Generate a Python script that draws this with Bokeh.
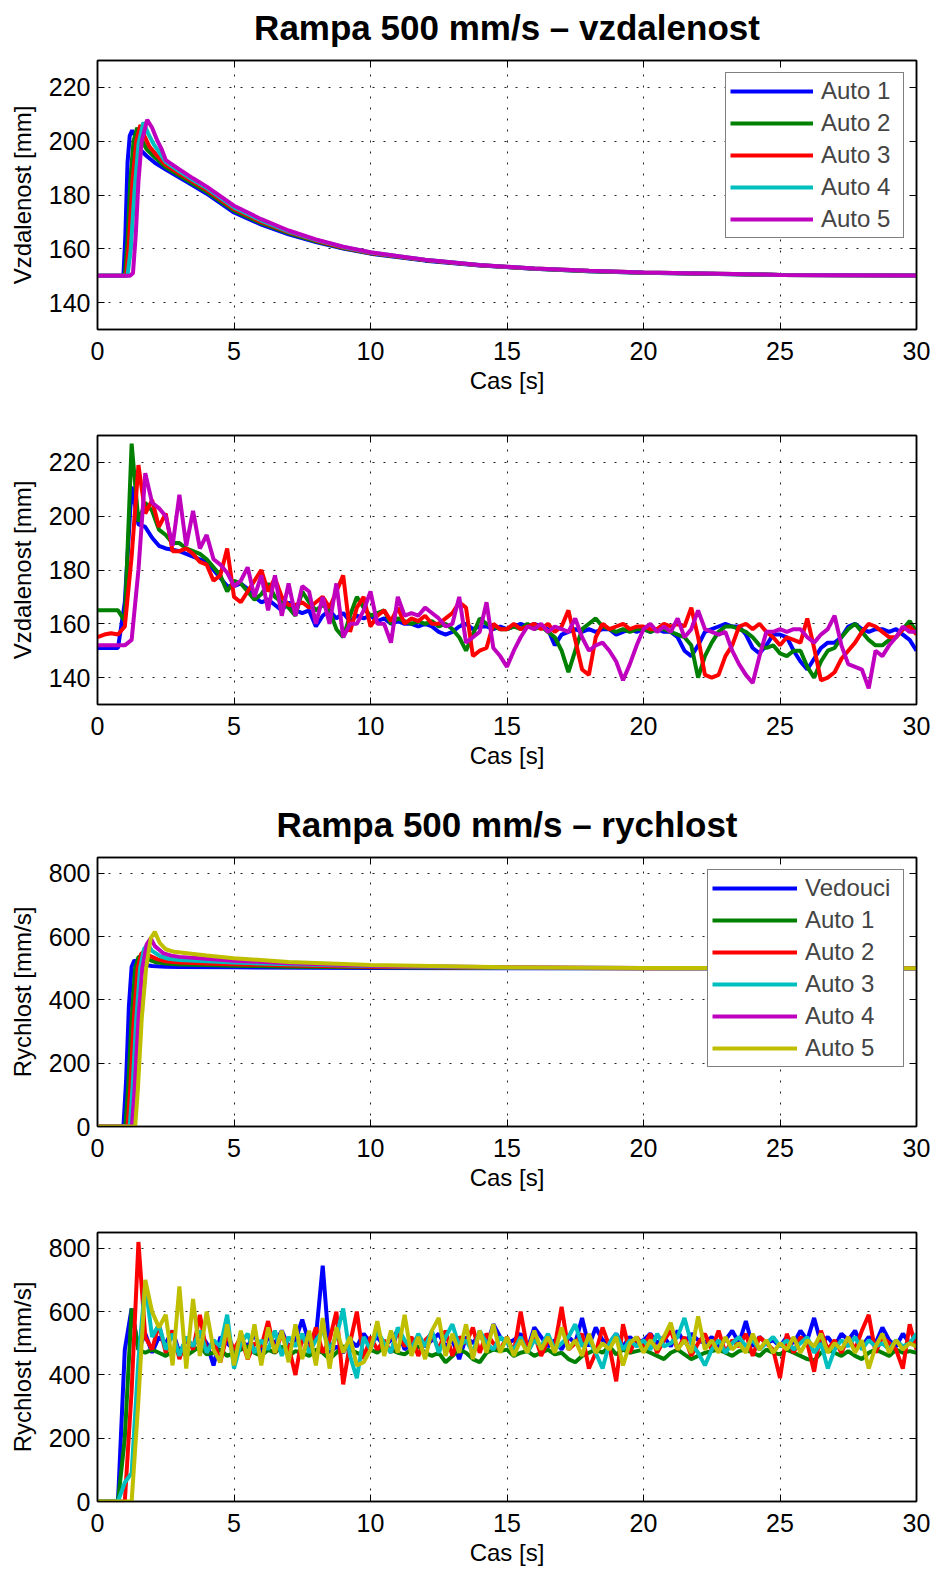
from bokeh.plotting import figure
from bokeh.models import Range1d, FixedTicker, LinearAxis
from bokeh.core.properties import value
from bokeh.layouts import column
from bokeh.embed import file_html
from bokeh.resources import INLINE

FONT = "Liberation Sans"
BLUE, GREEN, RED, CYAN, MAGENTA, YELLOW = "#0000FF", "#008000", "#FF0000", "#00BFBF", "#BF00BF", "#BFBF00"

X_TICKS = [0, 5, 10, 15, 20, 25, 30]
DIST_TICKS = [140, 160, 180, 200, 220]
SPEED_TICKS = [0, 200, 400, 600, 800]

TITLE_DIST = "Rampa 500 mm/s \u2013 vzdalenost"
TITLE_SPEED = "Rampa 500 mm/s \u2013 rychlost"
XLABEL = "Cas [s]"
YLABEL_DIST = "Vzdalenost [mm]"
YLABEL_SPEED = "Rychlost [mm/s]"

# ---------- plot 1: simulated distance ----------
sim_dist_t1 = [0, 0.95, 1.02, 1.1, 1.18, 1.27, 1.38, 1.55, 1.8, 2.1, 2.5, 3, 3.5, 4, 5, 6, 7, 8, 9, 10, 12, 14, 16, 18, 20, 25, 30]
sim_dist_a1 = [150, 150, 165, 192, 202, 204, 202, 197, 194.5, 192, 189.5, 186.5, 183.5, 180.5, 173.5, 169, 165.4, 162.5, 160.1, 158.2, 155.6, 153.8, 152.6, 151.7, 151.1, 150.3, 150.1]
sim_dist_t2 = [0, 1.0, 1.1, 1.2, 1.32, 1.45, 1.6, 1.8, 2.1, 2.5, 3, 3.5, 4, 5, 6, 7, 8, 9, 10, 12, 14, 16, 18, 20, 25, 30]
sim_dist_a2 = [150, 150, 163, 185, 200, 205, 201, 197, 194, 190.3, 187.2, 184.2, 181.2, 174.2, 169.5, 165.8, 162.8, 160.3, 158.3, 155.7, 153.9, 152.6, 151.7, 151.1, 150.3, 150.1]
sim_dist_t3 = [0, 1.05, 1.15, 1.28, 1.42, 1.57, 1.72, 1.9, 2.15, 2.5, 3, 3.5, 4, 5, 6, 7, 8, 9, 10, 12, 14, 16, 18, 20, 25, 30]
sim_dist_a3 = [150, 150, 162, 185, 200, 206, 202, 198, 195, 191.2, 188, 184.9, 181.9, 174.8, 170, 166.2, 163.1, 160.5, 158.4, 155.8, 153.9, 152.7, 151.8, 151.2, 150.3, 150.1]
sim_dist_t4 = [0, 1.1, 1.22, 1.36, 1.5, 1.68, 1.85, 2.05, 2.25, 2.5, 3, 3.5, 4, 5, 6, 7, 8, 9, 10, 12, 14, 16, 18, 20, 25, 30]
sim_dist_a4 = [150, 150, 160, 182, 199, 207, 203, 199, 196, 192.2, 188.8, 185.6, 182.6, 175.4, 170.5, 166.5, 163.3, 160.7, 158.6, 155.9, 154, 152.7, 151.8, 151.2, 150.3, 150.1]
sim_dist_t5 = [0, 1.2, 1.3, 1.4, 1.5, 1.62, 1.82, 2.0, 2.2, 2.35, 2.5, 3, 3.5, 4, 5, 6, 7, 8, 9, 10, 12, 14, 16, 18, 20, 25, 30]
sim_dist_a5 = [150, 150, 151, 165, 185, 200, 208, 205, 200, 197, 193, 189.5, 186.2, 183.1, 176, 171, 166.8, 163.5, 160.8, 158.7, 155.9, 154, 152.7, 151.8, 151.2, 150.3, 150.1]

# ---------- plot 2: measured distance (0.25 s samples) ----------
DT = 0.25
meas_dist_a1 = [151, 151, 151, 151, 168, 211, 197, 196, 192, 189,
                188, 187.5, 187, 186, 185, 184, 183, 180, 177, 174,
                174, 175, 173, 170, 168, 169, 167, 165, 168, 165,
                164, 165, 159, 163, 165, 162, 164, 161, 163, 162,
                163, 161, 162, 160, 161, 160, 160, 159, 160, 159,
                157, 156, 157, 159, 160, 158, 159, 159, 158, 159,
                158, 159, 160, 159, 160, 159, 158, 152, 156, 157,
                158, 157, 158, 157, 158, 158, 156, 157, 158, 157,
                158, 157, 158, 157, 157, 155, 150, 148, 152, 157,
                158, 159, 160, 159, 159, 156, 151, 149, 152, 156,
                156, 155, 150, 146, 143, 147, 151, 153, 153, 155,
                159, 160, 158, 157, 158, 158, 157, 158, 156, 154,
                150]
meas_dist_a2 = [165, 165, 165, 165, 161, 227, 198, 205, 202, 195,
                193, 190, 190, 188, 187, 186, 184, 181, 178, 172,
                176, 175, 172, 169, 171, 175, 170, 168, 166, 163,
                172, 168, 165, 167, 165, 158, 155, 163, 170, 166,
                163, 164, 165, 160, 162, 161, 160, 161, 160, 161,
                159, 160, 158, 155, 150, 156, 162, 160, 159, 158,
                158, 159, 158, 160, 158, 159, 157, 155, 150, 142,
                150, 158, 160, 162, 159, 158, 157, 158, 157, 158,
                158, 157, 158, 158, 157, 156, 155, 152, 140, 148,
                153, 157, 159, 159, 158, 157, 155, 152, 151, 152,
                149, 148, 150, 150, 144, 140, 146, 150, 151, 155,
                158, 160, 157, 154, 152, 152, 154, 155, 158, 161,
                157]
meas_dist_a3 = [155, 156, 156.5, 156, 159, 185, 219, 201, 206, 196,
                201, 187, 187, 188, 186, 183, 182, 176, 178, 188,
                170, 168, 172, 176, 180, 172, 177, 170, 167, 167,
                168, 166, 168, 170, 166, 172, 178, 157, 166, 170,
                159, 163, 165, 161, 166, 160, 162, 161, 163, 160,
                160, 162, 164, 168, 166, 148, 150, 151, 160, 158,
                158, 160, 158, 159, 160, 158, 160, 157, 159, 165,
                154, 143, 141, 155, 160, 158, 159, 160, 158, 159,
                159, 158, 158, 160, 159, 160, 159, 166, 155, 141,
                140, 141, 148, 152, 159, 160, 158, 160, 157, 155,
                152, 155, 154, 153, 162, 151, 139, 140, 142, 147,
                150, 153, 157, 160, 159, 157, 155, 155, 158, 159,
                156]
meas_dist_a5 = [152, 152, 152, 152, 152, 154, 180, 216, 205, 203,
                200, 189, 208, 189, 202, 188, 193, 184, 182, 179,
                174, 176, 181, 170, 178, 165, 178, 163, 175, 163,
                174, 172, 160, 170, 160, 175, 155, 160, 160, 165,
                172, 160, 160, 153, 170, 163, 164, 163, 166, 164,
                162, 159, 160, 170, 153, 155, 157, 168, 151, 148,
                144, 150, 155, 159, 158, 160, 157, 159, 158, 157,
                162, 155, 150, 152, 153, 150, 146, 139, 145, 152,
                158, 160, 157, 159, 157, 162, 155, 158, 165, 158,
                157, 156, 157, 150, 145, 141, 138, 148, 157, 157,
                158, 157, 158, 158, 155, 153, 156, 158, 163, 152,
                145, 144, 143, 136, 150, 148, 152, 155, 159, 157,
                157]

# ---------- plot 3: simulated speed ----------
sim_spd_tv = [0, 0.95, 1.05, 1.15, 1.25, 1.35, 1.6, 2, 2.5, 3, 5, 10, 15, 20, 30]
sim_spd_v = [0, 0, 150, 380, 505, 525, 512, 507, 505, 504, 503, 501, 500, 500, 500]
sim_spd_t1 = [0, 1.02, 1.12, 1.25, 1.38, 1.5, 1.62, 1.8, 2.1, 2.5, 3, 4, 5, 7, 10, 15, 20, 30]
sim_spd_a1 = [0, 0, 120, 340, 500, 535, 540, 530, 520, 515, 512, 510, 508, 505, 503, 501, 500, 500]
sim_spd_t2 = [0, 1.1, 1.2, 1.33, 1.47, 1.6, 1.72, 1.9, 2.2, 2.5, 3, 4, 5, 7, 10, 15, 20, 30]
sim_spd_a2 = [0, 0, 120, 340, 500, 545, 555, 540, 528, 522, 518, 515, 513, 509, 505, 502, 500, 500]
sim_spd_t3 = [0, 1.18, 1.28, 1.42, 1.56, 1.7, 1.83, 2.0, 2.3, 2.6, 3, 4, 5, 7, 10, 15, 20, 30]
sim_spd_a3 = [0, 0, 120, 340, 500, 560, 575, 555, 538, 530, 526, 522, 518, 513, 507, 502, 500.5, 500]
sim_spd_t4 = [0, 1.26, 1.36, 1.5, 1.64, 1.8, 1.95, 2.1, 2.4, 2.7, 3, 4, 5, 7, 10, 15, 20, 30]
sim_spd_a4 = [0, 0, 120, 340, 500, 575, 595, 570, 548, 540, 536, 530, 524, 516, 508, 503, 501, 500]
sim_spd_t5 = [0, 1.38, 1.48, 1.62, 1.78, 1.95, 2.1, 2.28, 2.5, 2.8, 3.2, 4, 5, 7, 10, 15, 20, 30]
sim_spd_a5 = [0, 0, 120, 340, 500, 595, 615, 580, 560, 552, 548, 540, 532, 520, 510, 503, 501, 500]

# ---------- plot 4: measured speed (0.25 s samples) ----------
meas_spd_v = [0, 0, 0, 0, 480, 610, 480, 530, 470, 520,
              500, 540, 470, 510, 490, 530, 500, 430, 520, 500,
              480, 510, 490, 530, 470, 520, 500, 540, 490, 510,
              575, 500, 520, 745, 470, 490, 470, 510, 490, 530,
              500, 520, 490, 510, 540, 480, 500, 520, 490, 510,
              530, 490, 510, 450, 520, 500, 530, 490, 560, 520,
              500, 510, 530, 480, 550, 520, 490, 510, 480, 520,
              500, 580, 490, 550, 510, 500, 530, 490, 520, 500,
              510, 530, 500, 520, 490, 540, 500, 530, 510, 500,
              520, 490, 510, 540, 500, 570, 490, 520, 500, 510,
              490, 520, 500, 540, 510, 580, 500, 520, 490, 530,
              510, 540, 490, 520, 500, 550, 510, 490, 530, 500,
              510]
meas_spd_a1 = [0, 0, 0, 0, 200, 610, 480, 470, 480, 470,
               460, 475, 480, 460, 475, 490, 465, 470, 480, 460,
               470, 480, 490, 470, 460, 480, 470, 490, 460, 475,
               470, 460, 480, 470, 450, 470, 490, 480, 470, 460,
               480, 470, 490, 480, 470, 465, 480, 490, 470, 460,
               470, 440, 460, 480, 470, 450, 440, 470, 480, 475,
               480, 460, 470, 475, 460, 470, 480, 465, 470, 450,
               440, 460, 470, 480, 470, 490, 465, 480, 470, 475,
               480, 470, 460, 450, 470, 480, 465, 450, 460, 470,
               475, 480, 470, 460, 475, 480, 470, 460, 480, 470,
               465, 480, 470, 460, 450, 445, 470, 480, 470, 460,
               475, 460, 450, 470, 480, 470, 460, 480, 470, 475,
               470]
meas_spd_a2 = [0, 0, 0, 0, 0, 350, 820, 520, 480, 560,
               470, 540, 450, 520, 480, 590, 470, 510, 440, 530,
               480, 520, 450, 500, 490, 570, 470, 530, 490, 400,
               520, 480, 550, 470, 510, 600, 370, 500, 600, 450,
               520, 480, 510, 470, 540, 490, 520, 460, 510, 530,
               480, 540, 460, 520, 500, 550, 470, 530, 500, 480,
               520, 470, 600, 480, 530, 460, 510, 490, 615, 480,
               500, 530, 420, 470, 550, 490, 380, 560, 470, 520,
               490, 530, 470, 510, 540, 480, 520, 460, 500, 530,
               480, 540, 470, 510, 490, 530, 460, 520, 500, 480,
               390, 530, 470, 520, 500, 410, 540, 480, 510, 470,
               520, 480, 540, 590, 470, 520, 500, 480, 420, 560,
               480]
meas_spd_a3 = [0, 0, 0, 0, 60, 90, 450, 690, 520, 560,
               480, 530, 460, 520, 490, 540, 470, 510, 490, 590,
               420, 500, 530, 470, 510, 480, 540, 460, 520, 490,
               530, 470, 510, 540, 480, 520, 610, 460, 390, 520,
               480, 540, 500, 470, 550, 510, 480, 530, 490, 540,
               470, 520, 560, 490, 510, 470, 540, 500, 480, 520,
               500, 480, 520, 470, 510, 490, 530, 480, 500, 520,
               560, 490, 510, 470, 420, 500, 530, 480, 510, 490,
               510, 480, 530, 490, 500, 520, 580, 500, 470, 430,
               480, 510, 470, 500, 520, 490, 510, 480, 500, 520,
               490, 510, 480, 500, 520, 470, 500, 420, 480, 510,
               490, 520, 480, 510, 490, 500, 480, 510, 490, 500,
               530]
meas_spd_a5 = [0, 0, 0, 0, 0, 0, 320, 700, 600, 550,
               590, 430, 680, 420, 640, 460, 600, 480, 440, 560,
               430, 540, 450, 560, 430, 550, 470, 540, 440, 560,
               450, 540, 430, 580, 420, 550, 470, 520, 430, 440,
               480, 570, 460, 540, 470, 590, 460, 520, 450, 540,
               580, 460, 530, 470, 560, 450, 540, 470, 560, 470,
               520, 460, 510, 470, 540, 480, 520, 470, 550, 480,
               510, 460, 530, 470, 500, 480, 520, 430, 500, 520,
               470, 510, 480, 520, 565, 480, 510, 470, 585, 480,
               510, 470, 520, 480, 500, 470, 530, 480, 510, 470,
               500, 480, 520, 470, 510, 490, 530, 470, 500, 480,
               520, 470, 510, 420, 490, 530, 470, 510, 480, 500,
               490]


def times(vals):
    return [i * DT for i in range(len(vals))]


def title_fig(height, text):
    t = figure(width=939, height=height, x_range=Range1d(0, 30), y_range=Range1d(0, height),
               output_backend="svg", toolbar_location=None,
               x_axis_location=None, y_axis_location=None,
               min_border_left=97, min_border_right=23, min_border_top=0, min_border_bottom=0)
    t.outline_line_color = None
    t.xgrid.visible = False
    t.ygrid.visible = False
    t.background_fill_color = "white"
    t.border_fill_color = "white"
    t.text(x=[15], y=[21], text=[text], text_font=value(FONT), text_font_size=value("35px"),
           text_font_style="bold", text_align="center", text_baseline="alphabetic",
           text_color="black")
    return t


def make_fig(height, top, bottom, yr, yticks, ylabel):
    p = figure(width=939, height=height, x_range=Range1d(0, 30), y_range=Range1d(*yr),
               output_backend="svg", toolbar_location=None,
               min_border_left=97, min_border_right=23,
               min_border_top=top, min_border_bottom=bottom)
    p.background_fill_color = "white"
    p.border_fill_color = "white"
    p.outline_line_color = "black"
    p.outline_line_width = 1.5
    xt = FixedTicker(ticks=X_TICKS)
    yt = FixedTicker(ticks=yticks)
    p.xaxis.ticker = xt
    p.yaxis.ticker = yt
    p.xaxis.axis_label = XLABEL
    p.yaxis.axis_label = ylabel
    for ax in p.xaxis + p.yaxis:
        ax.major_tick_in = 7
        ax.major_tick_out = 0
        ax.minor_tick_line_color = None
        ax.axis_line_color = "black"
        ax.axis_line_width = 1.5
        ax.major_tick_line_color = "black"
        ax.major_tick_line_width = 1
        ax.major_label_text_font = FONT
        ax.major_label_text_font_size = "25px"
        ax.major_label_text_color = "black"
        ax.axis_label_text_font = FONT
        ax.axis_label_text_font_size = "24px"
        ax.axis_label_text_font_style = "normal"
        ax.axis_label_text_color = "black"
    p.xaxis.major_label_standoff = 12
    p.xaxis.axis_label_standoff = 4
    p.yaxis.major_label_standoff = 7
    p.yaxis.axis_label_standoff = 10
    top_ax = LinearAxis(ticker=xt, major_tick_in=7, major_tick_out=0, minor_tick_line_color=None,
                        major_label_text_font_size="1px", major_label_text_color=None,
                        major_label_standoff=0,
                        axis_line_color="black", axis_line_width=1.5)
    right_ax = LinearAxis(ticker=yt, major_tick_in=7, major_tick_out=0, minor_tick_line_color=None,
                          major_label_text_font_size="1px", major_label_text_color=None,
                          major_label_standoff=0,
                          axis_line_color="black", axis_line_width=1.5)
    p.add_layout(top_ax, "above")
    p.add_layout(right_ax, "right")
    for g in (p.xgrid, p.ygrid):
        g.grid_line_color = "#222222"
        g.grid_line_dash = "2 9"
        g.grid_line_width = 1
    p.xgrid.ticker = xt
    p.ygrid.ticker = yt
    return p


def style_legend(p, glyph_width, label_width):
    lg = p.legend[0]
    lg.location = "top_right"
    lg.margin = 12
    lg.padding = 4
    lg.spacing = 4
    lg.glyph_width = glyph_width
    lg.glyph_height = 20
    lg.label_width = label_width
    lg.label_standoff = 8
    lg.label_text_font = FONT
    lg.label_text_font_size = "24px"
    lg.border_line_color = "black"
    lg.border_line_width = 1
    lg.background_fill_color = "white"
    lg.background_fill_alpha = 1


LW = 4

t1 = title_fig(48, TITLE_DIST)
p1 = make_fig(352, 12, 71, (130, 230), DIST_TICKS, YLABEL_DIST)
p1.line(sim_dist_t1, sim_dist_a1, color=BLUE, line_width=LW, legend_label="Auto 1")
p1.line(sim_dist_t2, sim_dist_a2, color=GREEN, line_width=LW, legend_label="Auto 2")
p1.line(sim_dist_t3, sim_dist_a3, color=RED, line_width=LW, legend_label="Auto 3")
p1.line(sim_dist_t4, sim_dist_a4, color=CYAN, line_width=LW, legend_label="Auto 4")
p1.line(sim_dist_t5, sim_dist_a5, color=MAGENTA, line_width=LW, legend_label="Auto 5")
style_legend(p1, 83, 78)

p2 = make_fig(375, 35, 71, (130, 230), DIST_TICKS, YLABEL_DIST)
p2.line(times(meas_dist_a1), meas_dist_a1, color=BLUE, line_width=LW)
p2.line(times(meas_dist_a2), meas_dist_a2, color=GREEN, line_width=LW)
p2.line(times(meas_dist_a3), meas_dist_a3, color=RED, line_width=LW)
p2.line(times(meas_dist_a5), meas_dist_a5, color=MAGENTA, line_width=LW)

t3 = title_fig(70, TITLE_SPEED)
p3 = make_fig(352, 12, 71, (0, 850), SPEED_TICKS, YLABEL_SPEED)
p3.line(sim_spd_tv, sim_spd_v, color=BLUE, line_width=LW, legend_label="Vedouci")
p3.line(sim_spd_t1, sim_spd_a1, color=GREEN, line_width=LW, legend_label="Auto 1")
p3.line(sim_spd_t2, sim_spd_a2, color=RED, line_width=LW, legend_label="Auto 2")
p3.line(sim_spd_t3, sim_spd_a3, color=CYAN, line_width=LW, legend_label="Auto 3")
p3.line(sim_spd_t4, sim_spd_a4, color=MAGENTA, line_width=LW, legend_label="Auto 4")
p3.line(sim_spd_t5, sim_spd_a5, color=YELLOW, line_width=LW, legend_label="Auto 5")
style_legend(p3, 85, 94)

p4 = make_fig(376, 35, 72, (0, 850), SPEED_TICKS, YLABEL_SPEED)
p4.line(times(meas_spd_v), meas_spd_v, color=BLUE, line_width=LW)
p4.line(times(meas_spd_a1), meas_spd_a1, color=GREEN, line_width=LW)
p4.line(times(meas_spd_a2), meas_spd_a2, color=RED, line_width=LW)
p4.line(times(meas_spd_a3), meas_spd_a3, color=CYAN, line_width=LW)
p4.line(times(meas_spd_a5), meas_spd_a5, color=YELLOW, line_width=LW)

layout = column(t1, p1, p2, t3, p3, p4, spacing=0)
open("out.html", "w").write(file_html(layout, INLINE))
